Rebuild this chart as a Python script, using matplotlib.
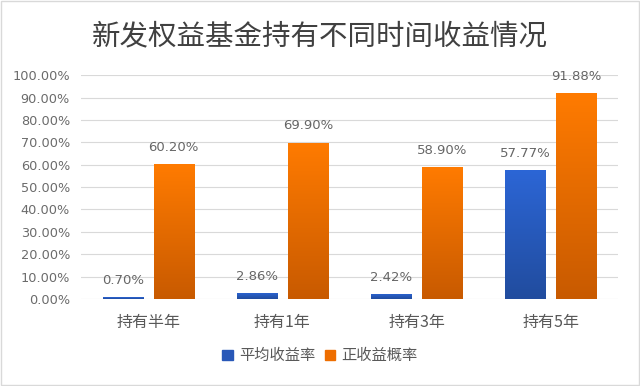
import numpy as np
import matplotlib.pyplot as plt
from matplotlib.colors import LinearSegmentedColormap
from matplotlib.patches import Rectangle

plt.rcParams['font.family'] = ['Noto Sans CJK SC', 'DejaVu Sans']

categories = ['持有半年', '持有1年', '持有3年', '持有5年']
avg_return = [0.70, 2.86, 2.42, 57.77]
pos_prob = [60.20, 69.90, 58.90, 91.88]
series_names = ['平均收益率', '正收益概率']

fig = plt.figure(figsize=(6.4, 3.86), dpi=100)
ax = fig.add_axes([0.1266, 0.2254, 0.839, 0.580])

x = np.arange(len(categories))
w = 0.30
off = 0.19

blue_cmap = LinearSegmentedColormap.from_list('b', ['#214c9e', '#2c66d6'])
orange_cmap = LinearSegmentedColormap.from_list('o', ['#c85a00', '#ff7b00'])

grad = np.linspace(0, 1, 256).reshape(-1, 1)

def grad_bars(xs, vals, cmap, color):
    bars = ax.bar(xs, vals, w, color=color, zorder=2)
    for b in bars:
        x0, y0 = b.get_x(), b.get_y()
        im = ax.imshow(grad, cmap=cmap, origin='lower', aspect='auto',
                       extent=(x0, x0 + b.get_width(), y0, y0 + b.get_height()),
                       zorder=3)
        im.set_clip_path(b)
    return bars

b1 = grad_bars(x - off, avg_return, blue_cmap, '#2858b8')
b2 = grad_bars(x + off, pos_prob, orange_cmap, '#ee6e00')

for xi, v in zip(x - off, avg_return):
    ax.text(xi, v + 4.5, f'{v:.2f}%', ha='center', va='bottom', fontsize=9.5,
            color='#666666', family='DejaVu Sans')
for xi, v in zip(x + off, pos_prob):
    ax.text(xi, v + 4.5, f'{v:.2f}%', ha='center', va='bottom', fontsize=9.5,
            color='#666666', family='DejaVu Sans')

ax.set_xlim(-0.5, len(categories) - 0.5)
ax.set_ylim(0, 100)
ax.set_yticks(np.arange(0, 101, 10))
ax.set_yticklabels([f'{t:.2f}%' for t in np.arange(0, 101, 10)], family='DejaVu Sans')
ax.set_xticks(x)
ax.set_xticklabels(categories)
ax.tick_params(axis='y', length=0, labelsize=9.3, labelcolor='#6b6b6b', pad=8)
ax.tick_params(axis='x', length=0, labelsize=11.5, labelcolor='#595959', pad=11)
ax.grid(axis='y', color='#d9d9d9', linewidth=0.8, zorder=0)
ax.set_axisbelow(True)
for s in ax.spines.values():
    s.set_visible(False)

fig.text(0.5, 0.905, '新发权益基金持有不同时间收益情况', ha='center', va='center',
         fontsize=20.5, color='#404040')

handles = [Rectangle((0, 0), 1, 1, color='#2858b8'), Rectangle((0, 0), 1, 1, color='#ee6e00')]
fig.legend(handles, series_names, loc='center', bbox_to_anchor=(0.5, 0.078), ncol=2,
           frameon=False, fontsize=11, handlelength=0.7, handleheight=0.7,
           handletextpad=0.4, columnspacing=0.6, labelcolor='#595959')

fig.patches.append(Rectangle((0.002, 0.003), 0.996, 0.994, transform=fig.transFigure,
                             fill=False, edgecolor='#d9d9d9', linewidth=1))

fig.savefig('out.png', dpi=100)
